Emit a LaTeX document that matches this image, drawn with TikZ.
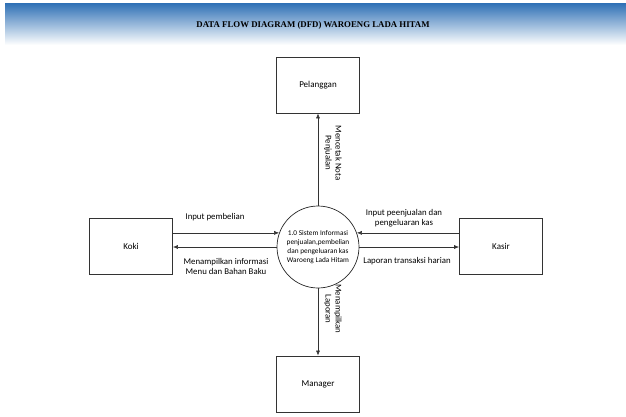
\documentclass[tikz,border=0pt]{standalone}
\usepackage{fontspec}
\setmainfont{Carlito}
\newfontfamily\titlefont{Liberation Serif}
\usetikzlibrary{arrows.meta}
\definecolor{hdrblue}{RGB}{46,112,181}
\begin{document}
\begin{tikzpicture}[x=1pt,y=-1pt,
  entity/.style={draw=black!80,line width=0.7pt,minimum width=83pt,minimum height=56pt,inner sep=0pt,font=\fontsize{9}{10.5}\selectfont},
  proc/.style={draw=black!85,line width=0.7pt,circle,minimum size=82pt,inner sep=0pt,align=center,font=\fontsize{7.3}{9}\selectfont},
  flow/.style={draw=black!80,line width=0.6pt,-{Latex[length=5pt,width=4pt]}},
  lbl/.style={align=center,font=\fontsize{8.8}{10}\selectfont,inner sep=0pt}]
\useasboundingbox (0,0) rectangle (626,416);
\shade[top color=hdrblue,bottom color=white] (5,3) rectangle (626,45);
\node[font=\titlefont\bfseries\fontsize{8.8}{10}\selectfont] (title) at (313,25) {DATA FLOW DIAGRAM (DFD) WAROENG LADA HITAM};
\node[proc] (p) at (318,247) {1.0 Sistem Informasi\\penjualan,pembelian\\dan pengeluaran kas\\Waroeng Lada Hitam};
\node[entity] (pel) at (318,85) {Pelanggan};
\node[entity] (man) at (318,384) {Manager};
\node[entity] (koki) at (131,246) {Koki};
\node[entity] (kas) at (501,246) {Kasir};
\draw[flow] (koki.east |- p.160) -- (p.160);
\draw[flow] (p.west) -- (koki.east |- p.west);
\draw[flow] (kas.west |- p.20) -- (p.20);
\draw[flow] (p.east) -- (kas.west |- p.east);
\draw[flow] (p.north) -- (pel.south);
\draw[flow] (p.south) -- (man.north);
\node[lbl] (l1) at (215,217) {Input pembelian};
\node[lbl] (l2) at (226,266) {Menampilkan informasi\\Menu dan Bahan Baku};
\node[lbl] (l3) at (404,218) {Input peenjualan dan\\pengeluaran kas};
\node[lbl] (l4) at (407,261) {Laporan transaksi harian};
\node[lbl,rotate=-90] (l5) at (333,153) {Mencetak Nota\\Penjualan};
\node[lbl,rotate=-90] (l6) at (333,309) {Menampilkan\\Laporan};
\end{tikzpicture}
\end{document}
